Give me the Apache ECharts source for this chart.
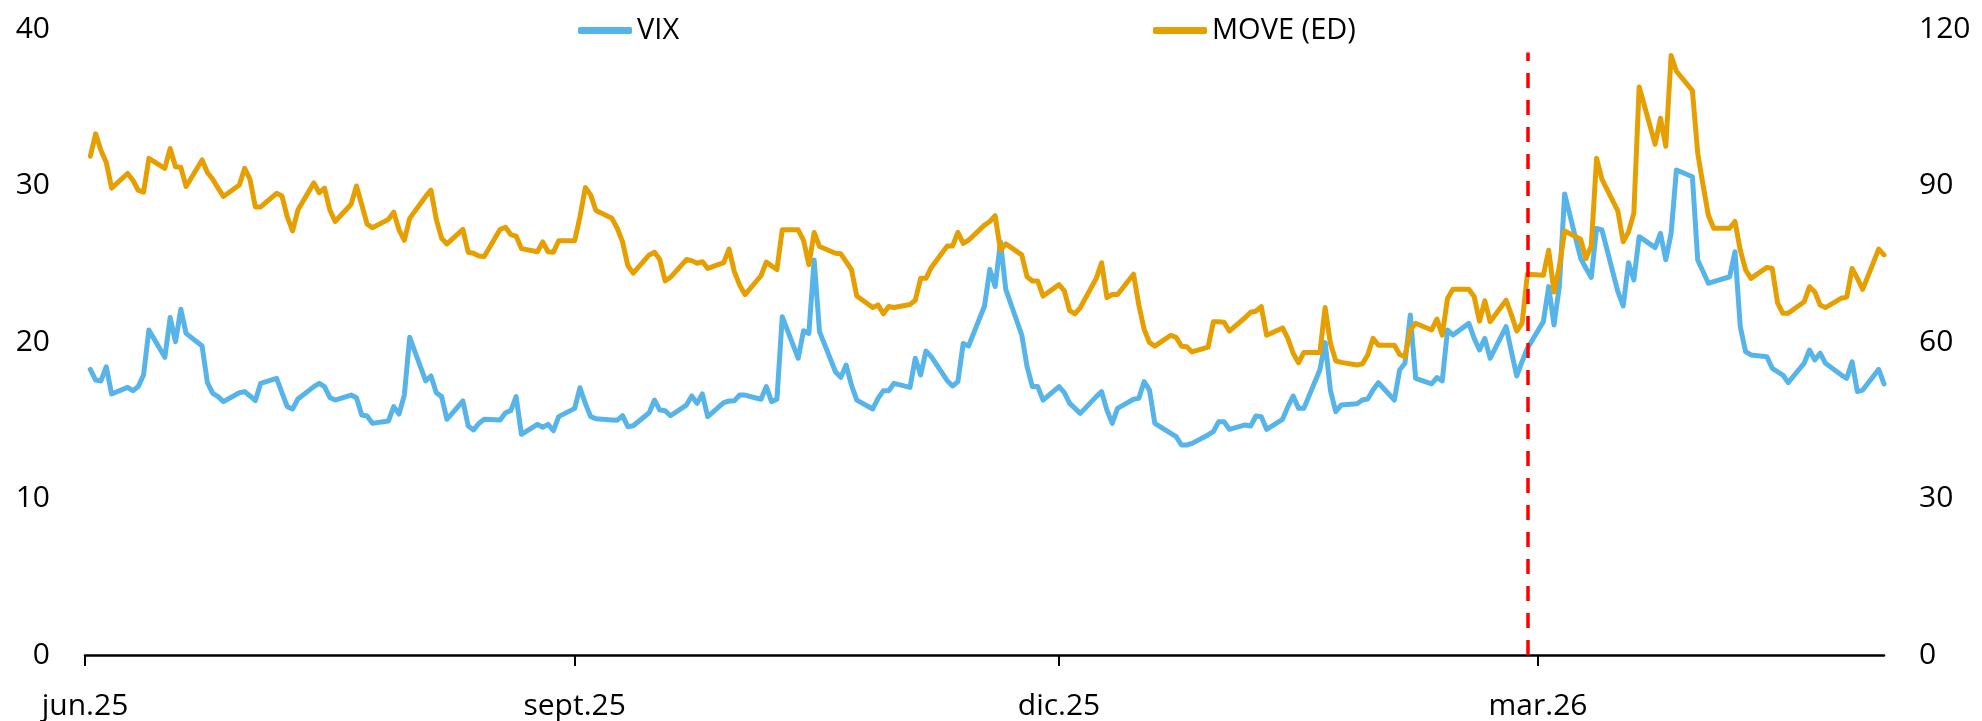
<!DOCTYPE html>
<html><head><meta charset="utf-8">
<script src="https://cdn.jsdelivr.net/npm/echarts@6/dist/echarts.min.js"></script>
<style>html,body{margin:0;padding:0;background:#fff}#c{width:1982px;height:721px}</style>
</head><body><div id="c"></div>
<script>
// x categories: every weekday from firstDate to lastDate
const firstDate = '2025-06-02';
const lastDate = '2026-05-05';
const axisStart = '2025-06-01';
const tickDates = ['2025-06-01', '2025-09-01', '2025-12-01', '2026-03-01'];
const monthAbbr = ['ene.', 'feb.', 'mar.', 'abr.', 'may.', 'jun.', 'jul.', 'ago.', 'sept.', 'oct.', 'nov.', 'dic.'];
const eventDate = '2026-02-27';
const eventTop = 38.5;

const vix = [
18.25,17.57,17.51,18.42,16.68,
17.10,16.89,17.15,17.89,20.77,
19.02,21.56,20.02,22.09,20.55,
19.74,17.40,16.72,16.51,16.19,
16.76,16.83,16.55,16.25,17.36,
17.68,16.76,15.87,15.72,16.36,
17.15,17.36,17.15,16.46,16.29,
16.61,16.44,15.34,15.27,14.80,
14.95,15.87,15.40,16.61,20.30,
17.51,17.83,16.76,16.51,15.06,
16.23,14.63,14.38,14.80,15.06,
15.02,15.48,15.61,16.51,14.10,
14.74,14.55,14.74,14.33,15.23,
15.76,17.08,16.08,15.23,15.10,
15.02,15.00,15.30,14.59,14.65,
15.48,16.29,15.65,15.61,15.29,
15.97,16.55,16.08,16.68,15.23,
16.12,16.23,16.25,16.61,16.61,
16.34,17.15,16.19,16.34,21.62,
18.96,20.72,20.55,25.24,20.66,
18.10,17.74,18.53,17.25,16.29,
15.72,16.40,16.89,16.89,17.36,
17.10,18.96,17.89,19.42,19.06,
17.53,17.19,17.47,19.91,19.74,
22.30,24.64,23.54,26.41,23.36,
20.45,18.42,17.15,17.15,16.29,
17.15,16.76,16.08,15.76,15.44,
16.51,16.83,15.65,14.80,15.76,
16.34,16.40,17.47,16.93,14.80,
14.16,13.95,13.42,13.42,13.52,
14.06,14.27,14.91,14.91,14.42,
14.70,14.63,15.27,15.23,14.42,
15.06,15.87,16.55,15.76,15.76,
18.21,19.96,16.89,15.55,15.97,
16.05,16.29,16.36,16.93,17.40,
16.29,18.21,18.64,21.72,17.68,
17.33,17.72,17.51,20.77,20.45,
21.19,20.23,19.49,20.23,18.96,
20.98,19.38,17.83,18.75,19.60,
21.30,23.54,21.09,23.54,29.46,
25.35,24.71,24.13,27.26,27.16,
23.22,22.30,25.07,23.96,26.73,
26.03,26.94,25.26,26.94,30.99,
30.56,25.24,24.50,23.75,23.86,
24.17,25.77,20.98,19.38,19.17,
19.06,18.32,18.10,17.89,17.40,
18.64,19.49,18.85,19.28,18.64,
17.89,17.68,18.74,16.83,16.93,
18.25,17.32
];

const move = [
95.6,99.9,96.7,94.4,89.5,
92.3,91.0,89.1,88.7,95.2,
93.3,97.1,93.6,93.5,89.8,
94.9,92.5,91.2,89.5,87.9,
90.1,93.3,91.2,85.9,85.9,
88.5,88.0,84.0,81.3,85.3,
90.5,88.6,89.5,85.3,83.1,
86.4,89.9,86.3,82.6,81.9,
83.5,84.9,81.5,79.5,83.7,
87.9,89.1,83.5,79.9,78.8,
81.6,77.2,77.0,76.5,76.4,
81.6,82.0,80.6,80.3,77.9,
77.3,79.2,77.3,77.2,79.4,
79.4,84.0,89.6,88.2,85.2,
83.7,81.8,79.2,74.6,73.2,
76.7,77.2,75.8,71.7,72.4,
75.8,75.6,75.1,75.4,74.1,
75.2,77.8,73.5,70.9,69.1,
72.7,75.3,74.6,73.9,81.5,
81.5,79.5,74.8,81.0,78.3,
77.0,76.9,75.4,73.9,68.8,
66.6,67.1,65.4,66.8,66.6,
67.2,68.0,72.2,72.2,74.3,
78.4,78.4,81.0,78.9,79.5,
82.4,83.1,84.2,77.6,78.8,
76.7,72.5,71.7,71.7,68.8,
71.0,69.8,66.0,65.4,66.6,
72.2,75.2,68.5,69.1,69.1,
73.0,67.1,62.4,59.9,59.2,
61.3,60.9,59.2,59.1,58.1,
59.0,63.9,63.9,63.8,62.1,
64.7,65.7,65.9,66.8,61.3,
62.7,60.7,57.8,56.0,58.0,
58.0,66.6,59.7,56.4,56.1,
55.6,55.8,57.5,60.7,59.4,
59.4,57.6,57.2,62.3,63.6,
62.3,64.4,61.3,68.4,70.1,
70.1,68.7,64.0,67.9,63.9,
68.0,65.2,62.1,63.6,73.0,
72.8,77.6,69.6,74.4,81.3,
79.7,76.0,78.4,95.2,91.2,
85.1,79.2,81.1,84.7,108.9,
97.9,102.9,97.5,114.9,111.9,
108.2,96.2,90.1,84.3,81.8,
81.8,83.1,77.6,73.8,72.2,
74.3,74.1,67.5,65.5,65.5,
67.7,70.6,69.6,67.1,66.6,
68.4,68.6,74.1,72.2,70.1,
77.8,76.7
];

const DAY = 86400000;
function utc(s) { const p = s.split('-').map(Number); return Date.UTC(p[0], p[1] - 1, p[2]); }
const t0 = utc(axisStart);
function dayOf(s) { return Math.round((utc(s) - t0) / DAY); }
function weekdays(a, b) {
  const out = []; let d = utc(a); const e = utc(b);
  while (d <= e) { const w = new Date(d).getUTCDay(); if (w !== 0 && w !== 6) out.push(new Date(d).toISOString().slice(0, 10)); d += DAY; }
  return out;
}
const dates = weekdays(firstDate, lastDate);
const n = Math.min(dates.length, vix.length, move.length);
const vixData = [], moveData = [];
for (let i = 0; i < n; i++) { const x = dayOf(dates[i]); vixData.push([x, vix[i]]); moveData.push([x, move[i]]); }
const tickDays = tickDates.map(dayOf);

const FONT = 'Open Sans';
const chart = echarts.init(document.getElementById('c'), null, { renderer: 'canvas' });
chart.setOption({
  animation: false,
  backgroundColor: '#ffffff',
  textStyle: { fontFamily: FONT },
  grid: { left: 85, right: 98, top: 29, bottom: 66, containLabel: false },
  legend: [
    { data: ['VIX'], left: 573, top: 11, icon: 'roundRect', itemWidth: 54, itemHeight: 7, itemGap: 5,
      textStyle: { fontFamily: FONT, fontSize: 29, color: '#000' } },
    { data: ['MOVE (ED)'], left: 1148, top: 11, icon: 'roundRect', itemWidth: 54, itemHeight: 7, itemGap: 5,
      textStyle: { fontFamily: FONT, fontSize: 29, color: '#000' } }
  ],
  xAxis: {
    type: 'value',
    min: 0,
    max: dayOf(lastDate),
    axisLine: { show: true, onZero: false, lineStyle: { color: '#000', width: 2.5 } },
    axisTick: { show: true, length: 11, lineStyle: { color: '#000', width: 2 }, customValues: tickDays },
    axisLabel: {
      customValues: tickDays,
      fontFamily: FONT, fontSize: 30, color: '#000', margin: 36,
      formatter: function (v) { const d = new Date(t0 + v * DAY); return monthAbbr[d.getUTCMonth()] + String(d.getUTCFullYear()).slice(2); }
    },
    splitLine: { show: false }
  },
  yAxis: [
    { type: 'value', min: 0, max: 40, interval: 10, position: 'left',
      axisLine: { show: false }, axisTick: { show: false }, splitLine: { show: false },
      axisLabel: { fontFamily: FONT, fontSize: 30, color: '#000', margin: 35 } },
    { type: 'value', min: 0, max: 120, interval: 30, position: 'right',
      axisLine: { show: false }, axisTick: { show: false }, splitLine: { show: false },
      axisLabel: { fontFamily: FONT, fontSize: 30, color: '#000', margin: 35 } }
  ],
  series: [
    { name: 'VIX', type: 'line', yAxisIndex: 0, data: vixData, showSymbol: false, symbol: 'none',
      itemStyle: { color: '#56B4E9' },
      lineStyle: { color: '#56B4E9', width: 5, cap: 'round', join: 'round' }, z: 2,
      markLine: { silent: true, symbol: 'none', label: { show: false }, z: 10,
        lineStyle: { color: '#FF0000', width: 3.5, type: [15, 12] },
        data: [[{ coord: [dayOf(eventDate), 0] }, { coord: [dayOf(eventDate), eventTop] }]] } },
    { name: 'MOVE (ED)', type: 'line', yAxisIndex: 1, data: moveData, showSymbol: false, symbol: 'none',
      itemStyle: { color: '#E69F00' },
      lineStyle: { color: '#E69F00', width: 5, cap: 'round', join: 'round' }, z: 3 }
  ]
});
</script>
</body></html>
